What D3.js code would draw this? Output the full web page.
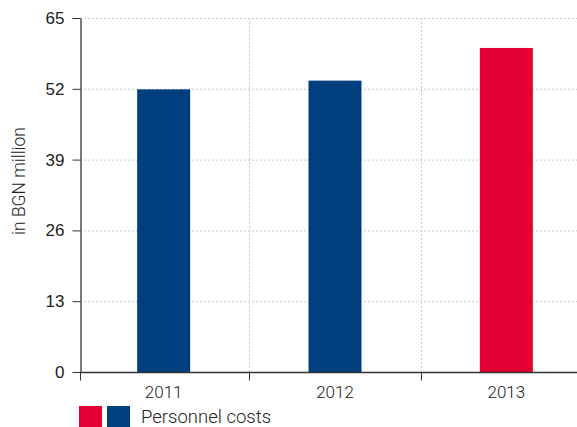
<!DOCTYPE html>
<html>
<head>
<meta charset="utf-8">
<script src="https://cdn.jsdelivr.net/npm/d3@7"></script>
<style>
body { margin: 0; background: #fff; }
svg { font-family: Roboto, "Liberation Sans", sans-serif; font-weight: 300; }
.grid line { stroke: #c8c8c8; stroke-dasharray: 2,2; }
.axis text { fill: #222; font-size: 17px; font-weight: 300; }
.axis path, .axis line { stroke: #333; }
</style>
</head>
<body>
<div id="chart"></div>
<script>
// personnel costs, in BGN million
var years = ["2011", "2012", "2013"];
var costs = [51.9, 53.5, 59.5];
var barColors = ["#003f7e", "#003f7e", "#e10031"];
var yTicks = [0, 13, 26, 39, 52, 65];
var legendColors = ["#e10031", "#003f7e"];

var W = 577, H = 427;
var svg = d3.select("#chart").append("svg")
    .attr("width", W)
    .attr("height", H);

var x = d3.scaleBand()
    .domain(years)
    .range([78, 592])
    .paddingInner(0)
    .paddingOuter(0);

var y = d3.scaleLinear()
    .domain([0, 65])
    .range([372, 18]);

var barW = 53;

// horizontal grid
svg.append("g").attr("class", "grid")
    .selectAll("line")
    .data(yTicks.filter(function(d){ return d > 0; }))
    .enter().append("line")
    .attr("x1", 80).attr("x2", W)
    .attr("y1", function(d){ return y(d) + 0.5; })
    .attr("y2", function(d){ return y(d) + 0.5; });

// vertical grid at band edges
var edges = years.slice(1).map(function(d){ return x(d); });
svg.append("g").attr("class", "grid")
    .selectAll("line")
    .data(edges)
    .enter().append("line")
    .attr("x1", function(d){ return Math.round(d) + 0.5; })
    .attr("x2", function(d){ return Math.round(d) + 0.5; })
    .attr("y1", y(65)).attr("y2", y(0));

// bars
svg.append("g")
    .selectAll("rect")
    .data(costs)
    .enter().append("rect")
    .attr("x", function(d, i){ return x(years[i]) + x.bandwidth() / 2 - barW / 2; })
    .attr("width", barW)
    .attr("y", function(d){ return y(d); })
    .attr("height", function(d){ return y(0) - y(d); })
    .attr("fill", function(d, i){ return barColors[i]; });

// y axis
var yAxis = svg.append("g").attr("class", "axis")
    .attr("transform", "translate(80.5,0)")
    .call(d3.axisLeft(y).tickValues(yTicks).tickSize(8).tickPadding(8).tickSizeOuter(0));
yAxis.select(".domain").attr("stroke-width", 1.3);

// x axis
var xAxis = svg.append("g").attr("class", "axis")
    .attr("transform", "translate(0," + (y(0) + 0.5) + ")");
xAxis.append("line")
    .attr("x1", 80).attr("x2", W)
    .attr("stroke", "#333").attr("stroke-width", 1.3);
xAxis.selectAll(".tick")
    .data([80].concat(edges))
    .enter().append("line")
    .attr("x1", function(d){ return Math.round(d) + 0.5; })
    .attr("x2", function(d){ return Math.round(d) + 0.5; })
    .attr("y1", 0).attr("y2", 8)
    .attr("stroke", "#333");
xAxis.selectAll("text")
    .data(years)
    .enter().append("text")
    .attr("x", function(d){ return x(d) + x.bandwidth() / 2; })
    .attr("y", 25)
    .attr("text-anchor", "middle")
    .text(function(d){ return d; });

// y label
svg.append("text")
    .attr("transform", "translate(25,181) rotate(-90)")
    .attr("text-anchor", "middle")
    .attr("fill", "#222")
    .style("font-size", "17.5px")
    .text("in BGN million");

// legend
svg.append("g")
    .selectAll("rect")
    .data(legendColors)
    .enter().append("rect")
    .attr("x", function(d, i){ return 79 + i * 28; })
    .attr("y", 406)
    .attr("width", 23)
    .attr("height", 21)
    .attr("fill", function(d){ return d; });
svg.append("text")
    .attr("x", 141)
    .attr("y", 423)
    .attr("fill", "#222")
    .style("font-size", "18.5px")
    .text("Personnel costs");
</script>
</body>
</html>
